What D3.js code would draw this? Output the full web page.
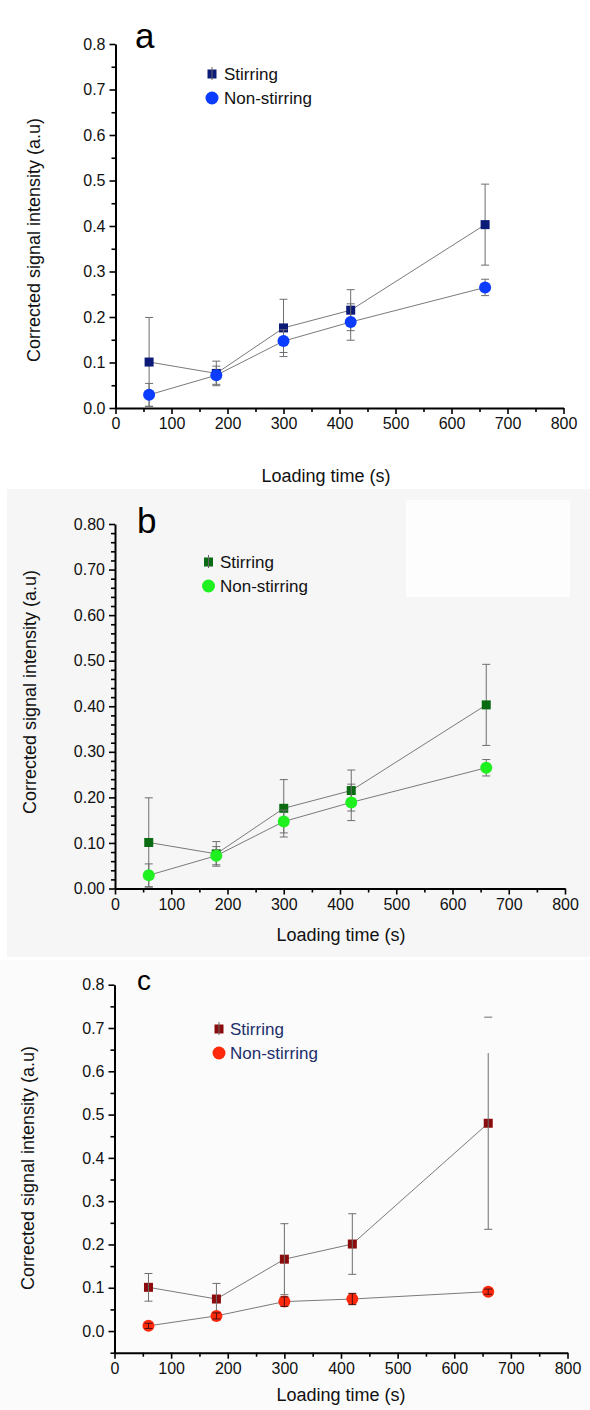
<!DOCTYPE html>
<html>
<head>
<meta charset="utf-8">
<script src="https://cdn.jsdelivr.net/npm/d3@7/dist/d3.min.js"></script>
<style>
  body { margin: 0; background: #fff; }
  svg { display: block; font-family: "Liberation Sans", Arial, sans-serif; }
</style>
</head>
<body>
<svg width="590" height="1410"></svg>
<script>
// loading times (s)
let times = [60, 180, 300, 420, 660];

// panels a and b show the same measurements
let stirAB = [0.101, 0.076, 0.176, 0.215, 0.403];
let stirABErr = [0.098, 0.027, 0.063, 0.045, 0.089];
let nonAB = [0.029, 0.072, 0.147, 0.189, 0.265];
let nonABErr = [0.025, 0.020, 0.025, 0.040, 0.018];

// panel c
let stirC = [0.101, 0.074, 0.166, 0.201, 0.480];
let stirCErr = [0.032, 0.036, 0.082, 0.070, 0.245];
// the last error bar's stem stops short of its top cap in the original
let stirCStemTop = [null, null, null, null, 0.642];
let nonC = [0.012, 0.035, 0.068, 0.074, 0.091];
let nonCErr = [0.006, 0.007, 0.011, 0.013, 0.006];

let xTicks = [0, 100, 200, 300, 400, 500, 600, 700, 800];
let yTicks = [0, 0.1, 0.2, 0.3, 0.4, 0.5, 0.6, 0.7, 0.8];
let legendNames = ['Stirring', 'Non-stirring'];

var svg = d3.select('svg');

// backgrounds of the scanned panels
svg.append('rect').attr('x', 7).attr('y', 489).attr('width', 583).attr('height', 468).attr('fill', '#f6f6f6');
svg.append('rect').attr('x', 406).attr('y', 500).attr('width', 164).attr('height', 97).attr('fill', '#fdfdfd');
svg.append('rect').attr('x', 0).attr('y', 960).attr('width', 590).attr('height', 450).attr('fill', '#fbfbfb');

let panels = [
    {letter: 'a', letterX: 135, letterY: 48, letterSize: 35,
     x0: 115.5, x1: 563.5, yDomain: [0, 0.8], yRange: [408, 44], minorStep: 0.05, fmt: '.1f',
     stir: stirAB, stirErr: stirABErr, stemTop: null, non: nonAB, nonErr: nonABErr,
     stirColor: '#0c1a78', nonColor: '#0b3cff', legendText: '#111',
     legX: 212, legY: 74, textX: 224, xTitleX: 326, xTitleY: 482, yTitleX: 34, yTitleY: 240, errOnTop: false},
    {letter: 'b', letterX: 137, letterY: 533, letterSize: 35,
     x0: 115, x1: 565, yDomain: [0, 0.8], yRange: [888.5, 524], minorStep: 0.02, fmt: '.2f',
     stir: stirAB, stirErr: stirABErr, stemTop: null, non: nonAB, nonErr: nonABErr,
     stirColor: '#0b6b12', nonColor: '#1ff01f', legendText: '#111',
     legX: 208.5, legY: 562, textX: 220, xTitleX: 341, xTitleY: 941, yTitleX: 30, yTitleY: 692, errOnTop: false},
    {letter: 'c', letterX: 137, letterY: 990, letterSize: 28,
     x0: 114.5, x1: 567.5, yDomain: [-0.05, 0.8], yRange: [1352.7, 984.7], minorStep: 0.05, fmt: '.1f',
     stir: stirC, stirErr: stirCErr, stemTop: stirCStemTop, non: nonC, nonErr: nonCErr,
     stirColor: '#8a0c0c', nonColor: '#ff2a0e', legendText: '#1c2f6b',
     legX: 219, legY: 1029, textX: 230, xTitleX: 341, xTitleY: 1401, yTitleX: 28, yTitleY: 1168, errOnTop: true}
];

panels.forEach(function(p) {
    let g = svg.append('g');
    let x = d3.scaleLinear().domain([0, 800]).range([p.x0, p.x1]);
    let y = d3.scaleLinear().domain(p.yDomain).range(p.yRange);
    let yBase = p.yRange[0];

    // minor ticks
    let xMinor = d3.range(50, 800, 100);
    g.append('g').attr('transform', `translate(0, ${yBase})`)
        .call(d3.axisBottom(x).tickValues(xMinor).tickSize(4).tickSizeOuter(0).tickFormat(''))
        .call(a => a.select('.domain').remove());
    let yMinor = d3.range(p.yDomain[0], 0.8001, p.minorStep)
        .filter(v => Math.abs(v * 10 - Math.round(v * 10)) > 1e-6);
    g.append('g').attr('transform', `translate(${p.x0}, 0)`)
        .call(d3.axisLeft(y).tickValues(yMinor).tickSize(4).tickSizeOuter(0).tickFormat(''))
        .call(a => a.select('.domain').remove());

    // main axes
    g.append('g').attr('transform', `translate(0, ${yBase})`)
        .call(d3.axisBottom(x).tickValues(xTicks).tickSize(6).tickSizeOuter(0).tickPadding(4));
    g.append('g').attr('transform', `translate(${p.x0}, 0)`)
        .call(d3.axisLeft(y).tickValues(yTicks).tickSize(6).tickSizeOuter(0).tickPadding(4).tickFormat(d3.format(p.fmt)));

    g.selectAll('.domain').attr('stroke', '#000').attr('stroke-width', 2);
    g.selectAll('.tick line').attr('stroke', '#000').attr('stroke-width', 1.6);
    g.selectAll('.tick text').attr('font-size', 16).attr('fill', '#111')
        .attr('font-family', '"Liberation Sans", Arial, sans-serif');

    // titles
    g.append('text').attr('x', p.xTitleX).attr('y', p.xTitleY)
        .attr('text-anchor', 'middle').attr('font-size', 18).attr('fill', '#111')
        .text('Loading time (s)');
    g.append('text')
        .attr('transform', `translate(${p.yTitleX}, ${p.yTitleY}) rotate(-90)`)
        .attr('text-anchor', 'middle').attr('dominant-baseline', 'central')
        .attr('font-size', 18).attr('fill', '#111')
        .text('Corrected signal intensity (a.u)');
    g.append('text').attr('x', p.letterX).attr('y', p.letterY)
        .attr('font-size', p.letterSize).attr('fill', '#000').text(p.letter);

    let series = [
        {vals: p.stir, err: p.stirErr, stemTop: p.stemTop, color: p.stirColor, shape: 'square'},
        {vals: p.non, err: p.nonErr, stemTop: null, color: p.nonColor, shape: 'circle'}
    ];

    let line = d3.line().x(d => x(d[0])).y(d => y(d[1]));
    series.forEach(function(s) {
        g.append('path')
            .attr('d', line(times.map((t, i) => [t, s.vals[i]])))
            .attr('fill', 'none').attr('stroke', '#7a7a7a').attr('stroke-width', 1);
    });

    function drawErr(s) {
        let eg = g.append('g').attr('stroke', p.errOnTop && s.shape === 'circle' ? '#4a1010' : '#6e6e6e')
            .attr('stroke-width', 1);
        times.forEach(function(t, i) {
            let cx = x(t), lo = y(s.vals[i] - s.err[i]), hi = y(s.vals[i] + s.err[i]);
            let stem = (s.stemTop && s.stemTop[i] != null) ? y(s.stemTop[i]) : hi;
            eg.append('line').attr('x1', cx).attr('x2', cx).attr('y1', lo).attr('y2', stem);
            eg.append('line').attr('x1', cx - 4).attr('x2', cx + 4).attr('y1', lo).attr('y2', lo);
            eg.append('line').attr('x1', cx - 4).attr('x2', cx + 4).attr('y1', hi).attr('y2', hi);
        });
    }

    function drawMarks(s) {
        if (s.shape === 'square') {
            g.append('g').selectAll('rect').data(times).join('rect')
                .attr('x', (t) => x(t) - 4.5)
                .attr('y', (t, i) => y(s.vals[i]) - 4.5)
                .attr('width', 9).attr('height', 9)
                .attr('fill', s.color);
        } else {
            g.append('g').selectAll('circle').data(times).join('circle')
                .attr('cx', (t) => x(t))
                .attr('cy', (t, i) => y(s.vals[i]))
                .attr('r', 6)
                .attr('fill', s.color);
        }
    }

    series.forEach(function(s) {
        if (p.errOnTop) { drawMarks(s); drawErr(s); }
        else { drawErr(s); drawMarks(s); }
    });

    // legend
    let leg = g.append('g');
    leg.append('rect').attr('x', p.legX - 4.5).attr('y', p.legY - 4.5)
        .attr('width', 9).attr('height', 9).attr('fill', p.stirColor);
    leg.append('line').attr('x1', p.legX).attr('x2', p.legX)
        .attr('y1', p.legY - 7).attr('y2', p.legY + 6).attr('stroke', '#666').attr('stroke-width', 1);
    leg.append('circle').attr('cx', p.legX).attr('cy', p.legY + 24).attr('r', 6.5).attr('fill', p.nonColor);
    legendNames.forEach(function(name, i) {
        leg.append('text').attr('x', p.textX).attr('y', p.legY + i * 24)
            .attr('dominant-baseline', 'central').attr('font-size', 17)
            .attr('fill', p.legendText).text(name);
    });
});
</script>
</body>
</html>
